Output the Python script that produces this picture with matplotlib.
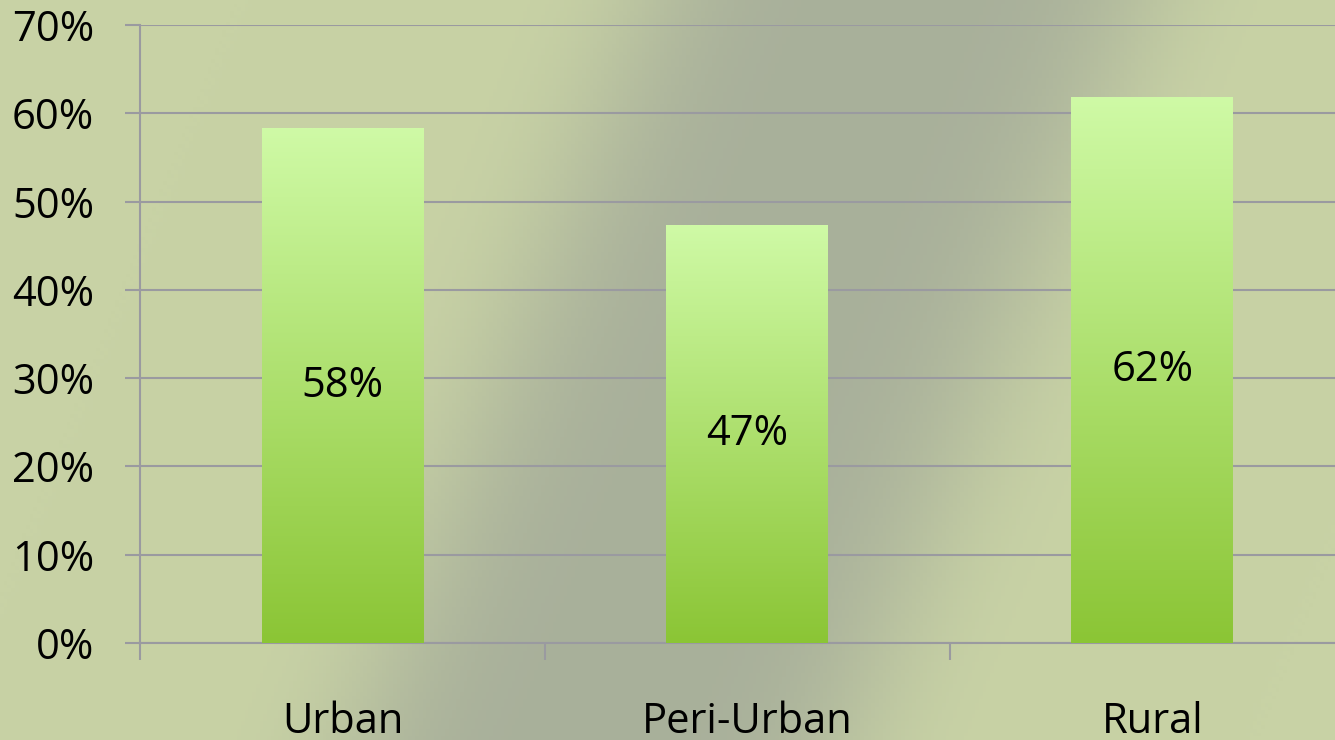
import numpy as np
import matplotlib.pyplot as plt
from matplotlib.colors import LinearSegmentedColormap

# donnees du graphique
categories = ["Urban", "Peri-Urban", "Rural"]
valeurs = [58.3, 47.3, 61.9]
etiquettes = ["58%", "47%", "62%"]
yticks = [0, 10, 20, 30, 40, 50, 60, 70]

plt.rcParams['font.family'] = ['Open Sans', 'DejaVu Sans']

fig = plt.figure(figsize=(13.35, 7.4), dpi=100)

# fond: feuille floue (approximation douce du fond photo)
fond = fig.add_axes([0, 0, 1, 1])
fond.set_axis_off()
yy, xx = np.mgrid[0:1:200j, 0:1:360j]
sombre = 0.85 * np.exp(-(((xx - 0.56 + 0.22 * (yy - 0.5)) / 0.2) ** 4))
clair = np.array([200, 210, 165]) / 255
fonce = np.array([163, 170, 153]) / 255
img = clair[None, None, :] * (1 - sombre[..., None]) + fonce[None, None, :] * sombre[..., None]
fond.imshow(img, extent=[0, 1, 0, 1], aspect='auto', zorder=0)

ax = fig.add_axes([0.1049, 0.1311, 0.910, 0.8351])
ax.patch.set_alpha(0)

x = np.arange(len(categories))
largeur = 0.40
barres = ax.bar(x, valeurs, width=largeur, color='none', edgecolor='none', zorder=3)

# degrade vert pour chaque barre
cmap = LinearSegmentedColormap.from_list("vert", ["#8BC535", "#CFFAA6"])
grad = np.linspace(0, 1, 256).reshape(-1, 1)
for b in barres:
    x0, y0 = b.get_x(), b.get_y()
    w, h = b.get_width(), b.get_height()
    im = ax.imshow(grad, cmap=cmap, origin='lower', aspect='auto',
                   extent=[x0, x0 + w, y0, y0 + h], zorder=3)
    im.set_clip_path(b)

for xi, v, lab in zip(x, valeurs, etiquettes):
    ax.text(xi, v / 2, lab, ha='center', va='center', fontsize=30, color='black', zorder=4)

ax.set_xlim(-0.5, 2.5)
ax.set_ylim(0, 70)
ax.set_yticks(yticks)
ax.set_yticklabels([f"{t}%" for t in yticks], fontsize=30)
ax.set_xticks(x)
ax.set_xticklabels(categories, fontsize=30)
ax.set_xticks([-0.5, 0.5, 1.5, 2.5], minor=True)
ax.tick_params(axis='x', which='major', length=0, pad=42)
ax.tick_params(axis='x', which='minor', length=12, color='#9A9AA0', width=1.5)
ax.tick_params(axis='y', length=11, color='#9A9AA0', width=1.5, pad=22)

ax.grid(axis='y', color='#9A9AA0', linewidth=1.5, zorder=1)
ax.set_axisbelow(True)
for s in ['top', 'right']:
    ax.spines[s].set_visible(False)
ax.spines['left'].set_color('#9A9AA0')
ax.spines['bottom'].set_color('#9A9AA0')
ax.spines['left'].set_linewidth(1.5)
ax.spines['bottom'].set_linewidth(1.5)

fig.savefig("out.png", dpi=100)
